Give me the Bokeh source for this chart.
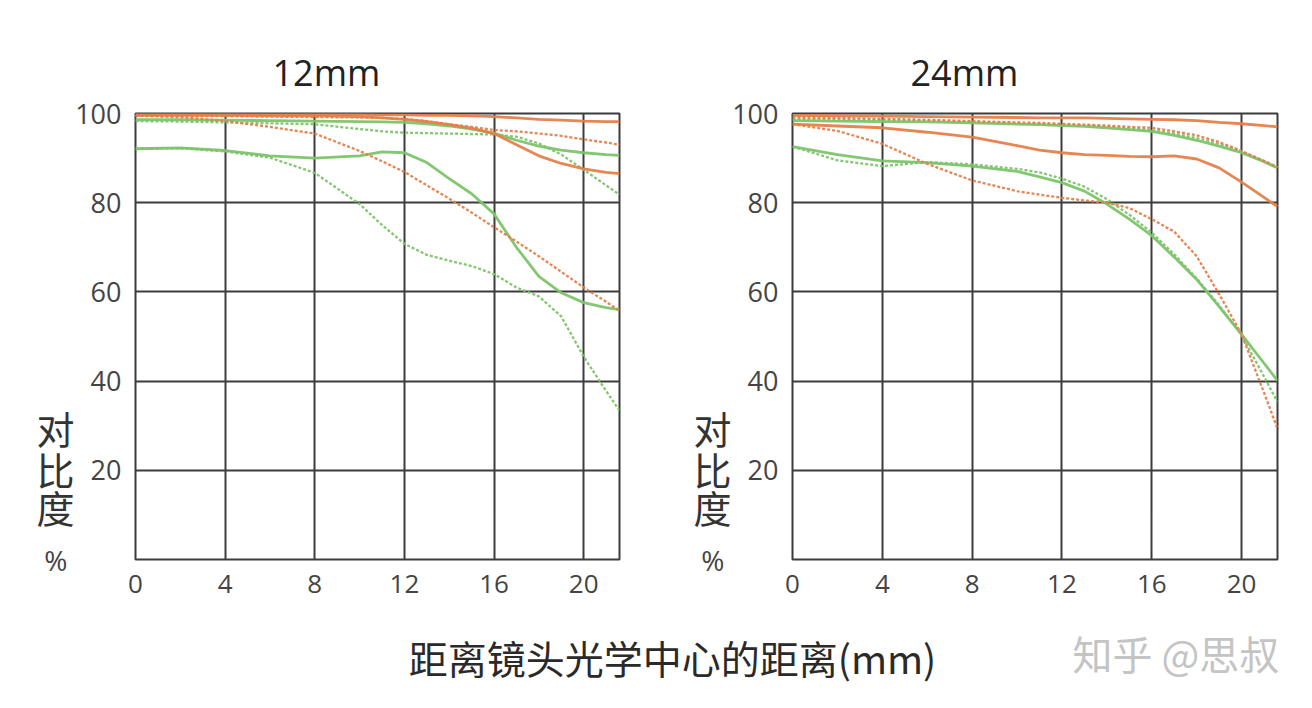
from bokeh.plotting import figure
from bokeh.layouts import column, row
from bokeh.models import Range1d, FixedTicker, Label, LinearAxis
from bokeh.embed import file_html
from bokeh.resources import INLINE

# ---------------- data ----------------
X = [0, 2, 4, 6, 8, 10, 11, 12, 13, 14, 15, 16, 17, 18, 19, 20, 21, 21.6]
x_ticks = [0, 4, 8, 12, 16, 20]
y_ticks = [20, 40, 60, 80, 100]
ylabel_chars = ["对", "比", "度"]
ylabel_pos = [29.5, 20.5, 11.8]
titles = ["12mm", "24mm"]
xlabel = "距离镜头光学中心的距离(mm)"
watermark = "知乎 @思叔"

# 12mm panel
l12_green_solid_hi = [98.6, 98.6, 98.5, 98.4, 98.3, 98.2, 98.1, 98.0, 97.7, 97.2, 96.5, 95.6, 94.0, 92.7, 91.8, 91.2, 90.8, 90.6]
l12_green_dot_hi = [98.3, 98.2, 98.0, 97.8, 97.6, 96.5, 96.0, 95.7, 95.6, 95.5, 95.4, 95.3, 94.8, 93.3, 90.8, 87.4, 83.9, 81.8]
l12_green_solid_lo = [92.1, 92.3, 91.7, 90.5, 90.0, 90.5, 91.4, 91.2, 89.0, 85.4, 82.0, 77.5, 70.0, 63.5, 59.8, 57.6, 56.5, 56.0]
l12_green_dot_lo = [92.1, 92.2, 91.5, 90.1, 86.7, 79.7, 75.0, 70.8, 68.3, 67.0, 65.8, 64.0, 61.0, 59.0, 54.5, 45.5, 37.8, 33.4]
l12_orange_solid_hi = [99.8, 99.8, 99.8, 99.8, 99.8, 99.8, 99.7, 99.7, 99.6, 99.6, 99.5, 99.3, 99.0, 98.7, 98.5, 98.3, 98.2, 98.2]
l12_orange_solid_lo = [99.6, 99.6, 99.6, 99.5, 99.5, 99.3, 99.0, 98.7, 98.2, 97.5, 96.7, 95.5, 93.0, 90.5, 88.8, 87.6, 86.8, 86.5]
l12_orange_dot_hi = [99.5, 99.4, 99.4, 99.3, 99.2, 99.1, 99.0, 98.8, 98.3, 97.6, 97.0, 96.3, 96.0, 95.5, 95.0, 94.2, 93.5, 93.0]
l12_orange_dot_lo = [99.5, 99.2, 98.3, 97.0, 95.5, 91.6, 89.3, 86.9, 83.9, 80.9, 77.8, 74.5, 71.3, 68.0, 64.5, 61.0, 57.8, 55.8]

# 24mm panel
l24_green_solid_hi = [98.4, 98.3, 98.2, 98.1, 97.9, 97.6, 97.5, 97.3, 97.1, 96.8, 96.4, 96.0, 95.1, 94.0, 92.7, 91.2, 89.2, 87.8]
l24_green_dot_hi = [98.8, 98.7, 98.5, 98.3, 98.1, 97.8, 97.6, 97.5, 97.3, 97.0, 96.7, 96.3, 95.5, 94.5, 93.2, 91.5, 89.4, 88.0]
l24_green_solid_lo = [92.6, 90.8, 89.4, 89.0, 88.2, 87.0, 85.8, 84.5, 82.6, 79.7, 76.3, 72.6, 67.8, 62.8, 56.7, 50.5, 44.0, 40.1]
l24_green_dot_lo = [92.6, 89.5, 88.2, 89.1, 88.6, 87.6, 86.8, 85.4, 83.6, 80.8, 77.3, 73.3, 68.4, 63.0, 57.0, 50.3, 41.0, 35.3]
l24_orange_solid_hi = [99.6, 99.5, 99.4, 99.3, 99.2, 99.1, 99.0, 99.0, 99.0, 98.9, 98.8, 98.7, 98.6, 98.4, 98.0, 97.7, 97.3, 97.0]
l24_orange_solid_lo = [97.6, 97.2, 96.8, 95.8, 94.7, 92.8, 91.8, 91.2, 90.8, 90.6, 90.4, 90.3, 90.5, 89.8, 87.8, 84.6, 81.2, 79.1]
l24_orange_dot_hi = [99.2, 99.0, 98.8, 98.6, 98.3, 98.0, 97.9, 97.7, 97.5, 97.3, 97.0, 96.8, 96.0, 95.1, 93.6, 91.6, 89.3, 87.9]
l24_orange_dot_lo = [97.6, 96.1, 93.2, 88.7, 85.0, 82.6, 81.8, 81.1, 80.5, 80.0, 78.8, 76.3, 73.5, 68.0, 59.5, 50.5, 37.4, 29.3]

GREEN = "#7cc46a"
ORANGE = "#e4804a"
GRID = "#3c3c3c"
FONT = "Open Sans"
CJK = "Noto Sans CJK SC"

panels = [
    dict(title=titles[0], title_offset=137, width=656, bl=135, br=37,
         series=[(l12_green_solid_hi, GREEN, "solid"), (l12_green_dot_hi, GREEN, "dot"),
                 (l12_green_solid_lo, GREEN, "solid"), (l12_green_dot_lo, GREEN, "dot"),
                 (l12_orange_dot_lo, ORANGE, "dot"), (l12_orange_dot_hi, ORANGE, "dot"),
                 (l12_orange_solid_lo, ORANGE, "solid"), (l12_orange_solid_hi, ORANGE, "solid")]),
    dict(title=titles[1], title_offset=118, width=648, bl=136, br=27,
         series=[(l24_green_solid_hi, GREEN, "solid"), (l24_green_dot_hi, GREEN, "dot"),
                 (l24_green_solid_lo, GREEN, "solid"), (l24_green_dot_lo, GREEN, "dot"),
                 (l24_orange_dot_lo, ORANGE, "dot"), (l24_orange_dot_hi, ORANGE, "dot"),
                 (l24_orange_solid_lo, ORANGE, "solid"), (l24_orange_solid_hi, ORANGE, "solid")]),
]


def plain_axis(ax, font, size, color, standoff):
    ax.axis_line_color = None
    ax.major_tick_line_color = None
    ax.minor_tick_line_color = None
    ax.major_tick_in = 0
    ax.major_tick_out = 0
    ax.minor_tick_in = 0
    ax.minor_tick_out = 0
    ax.major_label_text_font = font
    ax.major_label_text_font_size = size
    ax.major_label_text_color = color
    ax.major_label_standoff = standoff


figs = []
for cfg in panels:
    p = figure(width=cfg["width"], height=620, x_range=Range1d(0, 21.6), y_range=Range1d(0, 100),
               output_backend="svg", toolbar_location=None, title=cfg["title"],
               min_border_left=cfg["bl"], min_border_right=cfg["br"],
               min_border_top=113, min_border_bottom=61)
    p.title.align = "left"
    p.title.offset = cfg["title_offset"]
    p.title.text_font = FONT
    p.title.text_font_size = "36px"
    p.title.text_font_style = "normal"
    p.title.text_color = "#222222"
    p.title.standoff = 33

    p.outline_line_color = GRID
    p.outline_line_width = 2
    p.background_fill_color = "white"
    p.border_fill_color = "white"

    p.xaxis.ticker = FixedTicker(ticks=x_ticks)
    p.yaxis.ticker = FixedTicker(ticks=y_ticks)
    plain_axis(p.xaxis[0], FONT, "26px", "#444444", 15)
    plain_axis(p.yaxis[0], FONT, "27px", "#444444", 14)

    # stacked vertical axis title "对比度" and the "%" unit, as label-only axes
    ch_axis = LinearAxis(ticker=FixedTicker(ticks=ylabel_pos),
                         major_label_overrides={v: c for v, c in zip(ylabel_pos, ylabel_chars)})
    plain_axis(ch_axis, CJK, "38px", "#333333", -2)
    p.add_layout(ch_axis, "left")
    pct_axis = LinearAxis(ticker=FixedTicker(ticks=[0]), major_label_overrides={0: "%"})
    plain_axis(pct_axis, FONT, "28px", "#444444", -34)
    p.add_layout(pct_axis, "left")

    p.xgrid.ticker = FixedTicker(ticks=x_ticks)
    p.ygrid.ticker = FixedTicker(ticks=y_ticks)
    for g in (p.xgrid[0], p.ygrid[0]):
        g.grid_line_color = GRID
        g.grid_line_width = 2

    for ys, col, style in cfg["series"]:
        if style == "solid":
            p.line(X, ys, line_color=col, line_width=2.8, line_alpha=0.95)
        else:
            p.line(X, ys, line_color=col, line_width=2.3, line_dash="3 2", line_alpha=0.95)
    figs.append(p)

cap = figure(width=1304, height=80, x_range=Range1d(0, 1304), y_range=Range1d(0, 80),
             output_backend="svg", toolbar_location=None, title=None,
             min_border=0, min_border_left=0, min_border_right=0, min_border_top=0, min_border_bottom=0)
cap.axis.visible = False
cap.grid.visible = False
cap.outline_line_color = None
cap.add_layout(Label(x=672, y=44, text=xlabel, text_align="center",
                     text_baseline="middle", text_font=CJK, text_font_size="39px",
                     text_color="#2a2a2a"))
cap.add_layout(Label(x=1072, y=48, text=watermark, text_align="left",
                     text_baseline="middle", text_font=CJK, text_font_size="40px",
                     text_color="#c4c4c4"))

layout = column(row(*figs), cap)
open("out.html", "w").write(file_html(layout, INLINE))
